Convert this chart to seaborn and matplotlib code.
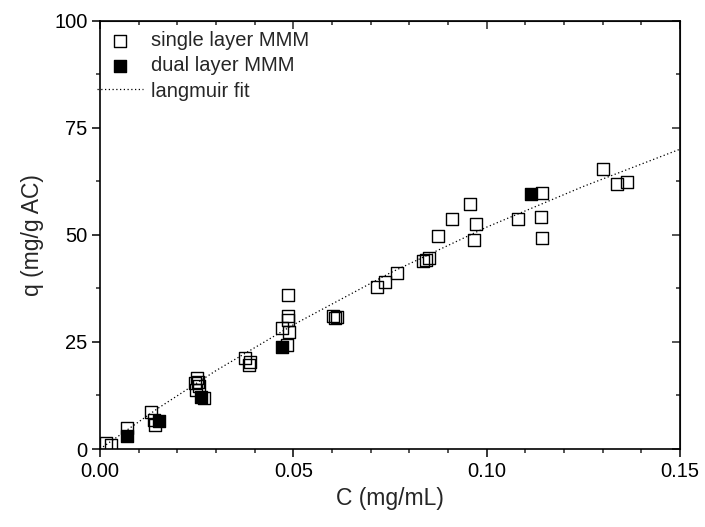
import numpy as np
import pandas as pd
import matplotlib
matplotlib.use("Agg")
import matplotlib.pyplot as plt
from matplotlib.ticker import MultipleLocator
import seaborn as sns

# single layer MMM (open squares)
c_single = [0.0016, 0.0028, 0.0070, 0.0132, 0.0140, 0.0142,
            0.0251, 0.0253, 0.0246, 0.0256, 0.0248, 0.0269,
            0.0375, 0.0388, 0.0385,
            0.0486, 0.0486, 0.0486, 0.0471, 0.0489, 0.0484,
            0.0603, 0.0613, 0.0608,
            0.0716, 0.0737, 0.0768,
            0.0835, 0.0851, 0.0843,
            0.0874, 0.0910, 0.0957, 0.0972, 0.0967,
            0.1081, 0.1143, 0.1140, 0.1143,
            0.1301, 0.1337, 0.1363]
q_single = [1.3, 1.0, 4.9, 8.6, 6.8, 5.6,
            16.6, 15.7, 15.4, 14.7, 13.8, 11.9,
            21.3, 20.3, 19.6,
            36.0, 31.1, 30.2, 28.3, 27.3, 24.3,
            31.1, 30.8, 30.6,
            37.9, 39.0, 41.1,
            43.9, 44.6, 44.2,
            49.8, 53.7, 57.2, 52.6, 48.8,
            53.7, 59.8, 54.2, 49.3,
            65.4, 61.9, 62.4]

# dual layer MMM (filled squares)
c_dual = [0.0070, 0.0153, 0.0261, 0.0471, 0.1115]
q_dual = [3.0, 6.5, 12.1, 23.8, 59.6]

# langmuir fit
c_fit = [0.0, 0.015, 0.03, 0.05, 0.075, 0.10, 0.125, 0.15]
q_fit = [0.0, 9.5, 18.3, 29.0, 41.1, 51.8, 61.3, 70.0]

df_single = pd.DataFrame({"C": c_single, "q": q_single})
df_dual = pd.DataFrame({"C": c_dual, "q": q_dual})
df_fit = pd.DataFrame({"C": c_fit, "q": q_fit})

sns.set_style("ticks")
plt.rcParams["font.family"] = ["Liberation Sans", "DejaVu Sans"]

fig = plt.figure(figsize=(7.05, 5.27), dpi=100)
ax = fig.add_axes([0.1418, 0.148, 0.8227, 0.8127])

sns.lineplot(data=df_fit, x="C", y="q", ax=ax, color="black", lw=0.9,
             linestyle=(0, (1, 2)), label="langmuir fit", zorder=1)
sns.scatterplot(data=df_single, x="C", y="q", ax=ax, marker="s", s=78,
                facecolor="none", edgecolor="black", linewidth=1.0,
                label="single layer MMM", zorder=3)
sns.scatterplot(data=df_dual, x="C", y="q", ax=ax, marker="s", s=78,
                color="black", edgecolor="black", linewidth=1.0,
                label="dual layer MMM", zorder=4)

ax.set_xlim(0, 0.15)
ax.set_ylim(0, 100)
ax.set_xticks([0, 0.05, 0.10, 0.15])
ax.set_xticklabels(["0.00", "0.05", "0.10", "0.15"])
ax.set_yticks([0, 25, 50, 75, 100])
ax.xaxis.set_minor_locator(MultipleLocator(0.01))
ax.yaxis.set_minor_locator(MultipleLocator(12.5))
ax.tick_params(which="major", direction="out", length=5.5, width=1.1,
               labelsize=14.5, colors="black")
ax.tick_params(which="minor", direction="out", length=3, width=1.1)
for sp in ax.spines.values():
    sp.set_linewidth(1.2)
    sp.set_color("black")

# mirrored inward ticks on top and right
top = ax.secondary_xaxis("top")
top.set_xticks([0, 0.05, 0.10, 0.15])
top.xaxis.set_minor_locator(MultipleLocator(0.01))
top.tick_params(which="major", direction="in", length=6, width=1.1, labeltop=False)
top.tick_params(which="minor", direction="in", length=3, width=1.1)
right = ax.secondary_yaxis("right")
right.set_yticks([0, 25, 50, 75, 100])
right.yaxis.set_minor_locator(MultipleLocator(12.5))
right.tick_params(which="major", direction="in", length=6, width=1.1, labelright=False)
right.tick_params(which="minor", direction="in", length=3, width=1.1)

ax.set_xlabel("C (mg/mL)", fontsize=16.5, labelpad=5)
ax.set_ylabel("q (mg/g AC)", fontsize=16.5, labelpad=7)

h, l = ax.get_legend_handles_labels()
order = [l.index("single layer MMM"), l.index("dual layer MMM"), l.index("langmuir fit")]
ax.legend([h[i] for i in order], [l[i] for i in order], loc="upper left",
          bbox_to_anchor=(-0.005, 0.975), borderaxespad=0, borderpad=0,
          frameon=False, fontsize=14.5, handlelength=2.3, handletextpad=0.4,
          labelspacing=0.3)

fig.savefig("out.png", dpi=100)
